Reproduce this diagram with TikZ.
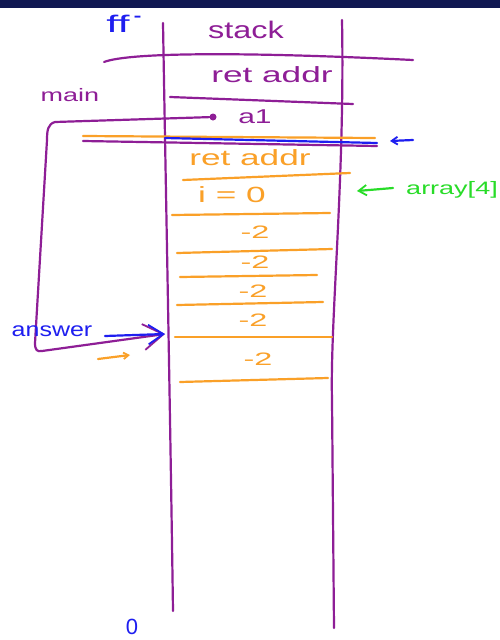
\documentclass[tikz,border=0pt]{standalone}
\usepackage{fontspec}
\setmainfont{Liberation Sans}
\usetikzlibrary{arrows.meta}
\definecolor{purp}{RGB}{142,30,150}
\definecolor{orng}{RGB}{250,160,40}
\definecolor{blu}{RGB}{30,30,240}
\definecolor{grn}{RGB}{40,220,40}
\definecolor{navy}{RGB}{16,24,82}
\newcommand{\hw}[2]{\scalebox{#1}[1]{#2}}
\begin{document}
\begin{tikzpicture}[x=1pt,y=-1pt,
  ink/.style={line width=2.2pt, line cap=round, line join=round},
  lbl/.style={inner sep=0pt, anchor=center},
  barb/.style={-{Straight Barb[length=#1,width=#1*1.3,line width=1.8pt]}}]
\useasboundingbox (0,0) rectangle (500,640);
\fill[white] (0,0) rectangle (500,640);
\fill[navy] (0,0) rectangle (500,8);

% stack walls
\coordinate (lt) at (163,23); \coordinate (lb) at (173,611);
\coordinate (rt) at (342,20); \coordinate (rb) at (334,628);
\draw[ink,purp] (lt) .. controls (166,200) and (170,400) .. (lb);
\draw[ink,purp] (rt) .. controls (345,180) and (330,320) .. (332,400) -- (rb);

% labels on top
\node[lbl,blu,font=\fontsize{24}{24}\selectfont] (ff) at (124,24) {\hw{1.8}{ff}\,\raisebox{9pt}{-}};
\node[lbl,purp,font=\fontsize{24}{24}\selectfont] (stack) at (246,30) {\hw{1.35}{stack}};

% main frame (purple)
\draw[ink,purp] (104,62) .. controls (130,52) and (250,52) .. (413,60);
\node[lbl,purp,font=\fontsize{22}{22}\selectfont] (ret1) at (272,75) {\hw{1.6}{ret addr}};
\draw[ink,purp] (170,97) -- (353,104);
\node[lbl,purp,font=\fontsize{18}{18}\selectfont] (main) at (70,95) {\hw{1.5}{main}};
\node[circle,fill=purp,inner sep=0pt,minimum size=7pt] (a1dot) at (213,117) {};
\node[lbl,purp,font=\fontsize{20}{20}\selectfont] (a1) at (255,117) {\hw{1.5}{a1}};

% frame boundary (triple line)
\draw[ink,orng] (83,136) -- (375,138);
\draw[ink,purp] (83,141) -- (377,146);
\draw[ink,blu] (165,138) -- (377,143);
\coordinate (bA) at (413,140); \coordinate (bB) at (390,141);
\draw[ink,blu,barb=6pt] (bA) -- (bB);

% callee frame (orange)
\node[lbl,orng,font=\fontsize{22}{22}\selectfont] (ret2) at (250,158) {\hw{1.6}{ret addr}};
\draw[ink,orng] (183,180) -- (350,173);
\node[lbl,orng,font=\fontsize{22}{22}\selectfont] (i0) at (232,195) {\hw{1.6}{i = 0}};
\draw[ink,orng] (172,215) -- (330,213);
\node[lbl,orng,font=\fontsize{18}{18}\selectfont] (m1) at (255,232) {\hw{1.8}{-2}};
\draw[ink,orng] (177,253) -- (332,249);
\node[lbl,orng,font=\fontsize{18}{18}\selectfont] (m2) at (255,262) {\hw{1.8}{-2}};
\draw[ink,orng] (180,277) -- (317,275);
\node[lbl,orng,font=\fontsize{18}{18}\selectfont] (m3) at (253,291) {\hw{1.8}{-2}};
\draw[ink,orng] (177,305) -- (323,302);
\node[lbl,orng,font=\fontsize{18}{18}\selectfont] (m4) at (253,320) {\hw{1.8}{-2}};
\draw[ink,orng] (175,337) -- (332,337);
\node[lbl,orng,font=\fontsize{18}{18}\selectfont] (m5) at (258,359) {\hw{1.8}{-2}};
\draw[ink,orng] (180,382) -- (328,378);

% array label (green)
\node[lbl,grn,font=\fontsize{18}{18}\selectfont] (arr) at (452,190) {\hw{1.5}{array[4]}};
\coordinate (gA) at (393,188); \coordinate (gB) at (357,191);
\draw[ink,grn,barb=8pt] (gA) -- (gB);

% pointer from a1 to answer
\coordinate (ans) at (165,334);
\draw[ink,purp,barb=20pt] (a1dot) -- (55,122) .. controls (48,124) and (47,130) .. (47,140)
   -- (35,343) .. controls (35,350) and (37,352) .. (42,351) -- (ans);

% answer label
\node[lbl,blu,font=\fontsize{20}{20}\selectfont] (answer) at (52,331) {\hw{1.25}{answer}};
\coordinate (bl) at (105,336);
\draw[ink,blu,barb=15pt] (bl) -- (ans);
\coordinate (oA) at (98,359); \coordinate (oB) at (130,355);
\draw[ink,orng,barb=5pt] (oA) -- (oB);

% bottom
\node[lbl,blu,font=\fontsize{22}{22}\selectfont] (zero) at (132,627) {0};
\end{tikzpicture}
\end{document}
